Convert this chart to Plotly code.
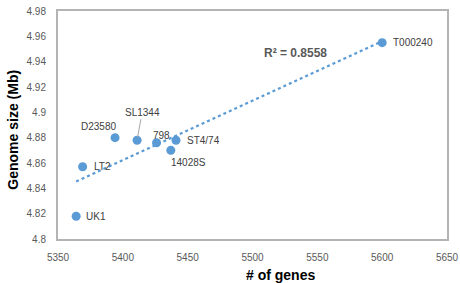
import numpy as np
import plotly.graph_objects as go

strains = ["UK1", "LT2", "D23580", "SL1344", "798", "ST4/74", "14028S", "T000240"]
genes = [5364, 5369, 5394, 5411, 5426, 5441, 5437, 5600]
genome_mb = [4.818, 4.857, 4.880, 4.878, 4.876, 4.878, 4.870, 4.955]
r2_text = "R² = 0.8558"

blue = "#5b9bd5"
label_color = "#404040"
axis_gray = "#595959"

slope, intercept = np.polyfit(genes, genome_mb, 1)
tx = [min(genes), max(genes)]
ty = [slope * v + intercept for v in tx]

fig = go.Figure()
fig.add_trace(go.Scatter(x=tx, y=ty, mode="lines",
                         line=dict(color=blue, width=2.2, dash="dot"),
                         hoverinfo="skip", showlegend=False))
fig.add_trace(go.Scatter(x=genes, y=genome_mb, mode="markers",
                         marker=dict(color=blue, size=9),
                         showlegend=False))

# label placement: (xanchor, xshift, yshift)
placement = {
    "UK1": ("left", 8, 0),
    "LT2": ("left", 9, 0),
    "D23580": ("right", 3, 11),
    "798": ("left", -6, 7),
    "ST4/74": ("left", 9, 0),
    "14028S": ("left", -2, -12),
    "T000240": ("left", 9, 0),
}
font_lbl = dict(family="Liberation Sans, Arial, sans-serif", size=10, color=label_color)
for s, gx, gy in zip(strains, genes, genome_mb):
    if s == "SL1344":
        fig.add_annotation(x=gx, y=gy, text=s, showarrow=True, arrowhead=0,
                           arrowwidth=1, arrowcolor="#a6a6a6", ax=5, ay=-28,
                           standoff=3, font=font_lbl)
    else:
        xa, xs, ys = placement[s]
        fig.add_annotation(x=gx, y=gy, text=s, showarrow=False, xanchor=xa,
                           xshift=xs, yshift=ys, font=font_lbl)

fig.add_annotation(x=5533, y=4.947, text=f"<b>{r2_text}</b>", showarrow=False,
                   font=dict(family="Liberation Sans, Arial, sans-serif", size=12, color=axis_gray))

fig.add_annotation(x=0.572, y=-0.115, xref="paper", yref="paper", yanchor="top",
                   text="<b># of genes</b>", showarrow=False,
                   font=dict(family="Liberation Sans, Arial, sans-serif", size=14, color="#000000"))
fig.add_annotation(x=-0.118, y=0.48, xref="paper", yref="paper", textangle=-90,
                   xanchor="center", yanchor="middle",
                   text="<b>Genome size (Mb)</b>", showarrow=False,
                   font=dict(family="Liberation Sans, Arial, sans-serif", size=14, color="#000000"))

tick_font = dict(family="Liberation Sans, Arial, sans-serif", size=10, color=axis_gray)
fig.update_xaxes(range=[5350, 5650], dtick=50, tick0=5350, showgrid=False, zeroline=False,
                 showline=True, mirror=True, linecolor="#b4b4b4", linewidth=2,
                 ticks="", tickfont=tick_font, ticklabelstandoff=8, automargin=False)
fig.update_yaxes(range=[4.8, 4.98], dtick=0.02, tick0=4.8, showgrid=False, zeroline=False,
                 showline=True, mirror=True, linecolor="#b4b4b4", linewidth=2,
                 ticks="", tickfont=tick_font, ticklabelstandoff=8, automargin=False)
fig.update_layout(width=460, height=283, margin=dict(l=58, r=13, t=11, b=44, autoexpand=False),
                  paper_bgcolor="white", plot_bgcolor="white", showlegend=False)
fig.write_html("out.html", config={"displayModeBar": False},
               post_script="document.body.style.margin='0';document.body.style.overflow='hidden';")
